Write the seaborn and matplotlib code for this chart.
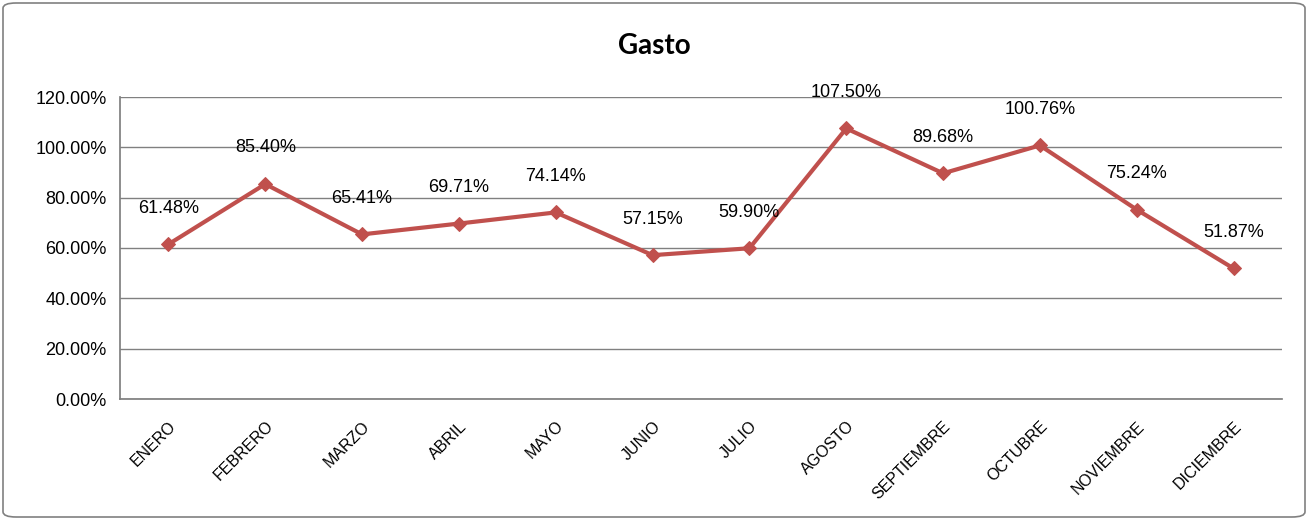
import matplotlib
matplotlib.use("Agg")
import matplotlib.pyplot as plt
import seaborn as sns
import pandas as pd
from matplotlib.patches import FancyBboxPatch

months = ["ENERO","FEBRERO","MARZO","ABRIL","MAYO","JUNIO","JULIO","AGOSTO",
          "SEPTIEMBRE","OCTUBRE","NOVIEMBRE","DICIEMBRE"]
values = [61.48,85.40,65.41,69.71,74.14,57.15,59.90,107.50,89.68,100.76,75.24,51.87]
yticks = [0,20,40,60,80,100,120]

sns.set_theme(style="white")
plt.rcParams['font.family'] = ['Liberation Sans', 'DejaVu Sans']
plt.rcParams['text.color'] = 'black'
plt.rcParams['xtick.color'] = 'black'
plt.rcParams['ytick.color'] = 'black'

fig = plt.figure(figsize=(13.08,5.2), dpi=100)
ax = fig.add_axes([120/1308, 1-399/520, (1282-120)/1308, (399-97)/520])
df = pd.DataFrame({"x": range(len(months)), "y": values})
sns.lineplot(data=df, x="x", y="y", ax=ax, color="#C0504D", linewidth=3,
             marker="D", markersize=7, markeredgecolor="#C0504D")
for i, v in enumerate(values):
    ax.annotate(f"{v:.2f}%", (i, v), xytext=(0, 26), textcoords="offset points",
                ha="center", va="center", fontsize=13, color="black")
ax.set_xlim(-0.5, 11.5)
ax.set_ylim(0, 120)
ax.set_yticks(yticks)
ax.set_yticklabels([f"{t:.2f}%" for t in yticks], fontsize=13)
ax.set_xticks(range(len(months)))
ax.set_xticklabels(months, rotation=45, ha="right", rotation_mode="anchor", fontsize=11.5)
ax.tick_params(axis="x", pad=8, colors="black")
ax.tick_params(axis="y", colors="black")
ax.grid(axis="y", color="#808080", linewidth=1)
ax.set_axisbelow(True)
for s in ["top","right"]:
    ax.spines[s].set_visible(False)
ax.spines["left"].set_color("#808080")
ax.spines["bottom"].set_color("#808080")
ax.set_xlabel(""); ax.set_ylabel("")
fig.text(0.5, 1-46/520, "Gasto", ha="center", va="center", fontsize=20,
         fontweight="bold", color="black", family=["Lato", "DejaVu Sans"])
fig.patches.append(FancyBboxPatch((3/1308, 3/520), 1302/1308, 514/520,
                   boxstyle="round,pad=0,rounding_size=0.01", transform=fig.transFigure,
                   fill=False, edgecolor="#808080", linewidth=1.2))
fig.savefig("out.png", dpi=100)
